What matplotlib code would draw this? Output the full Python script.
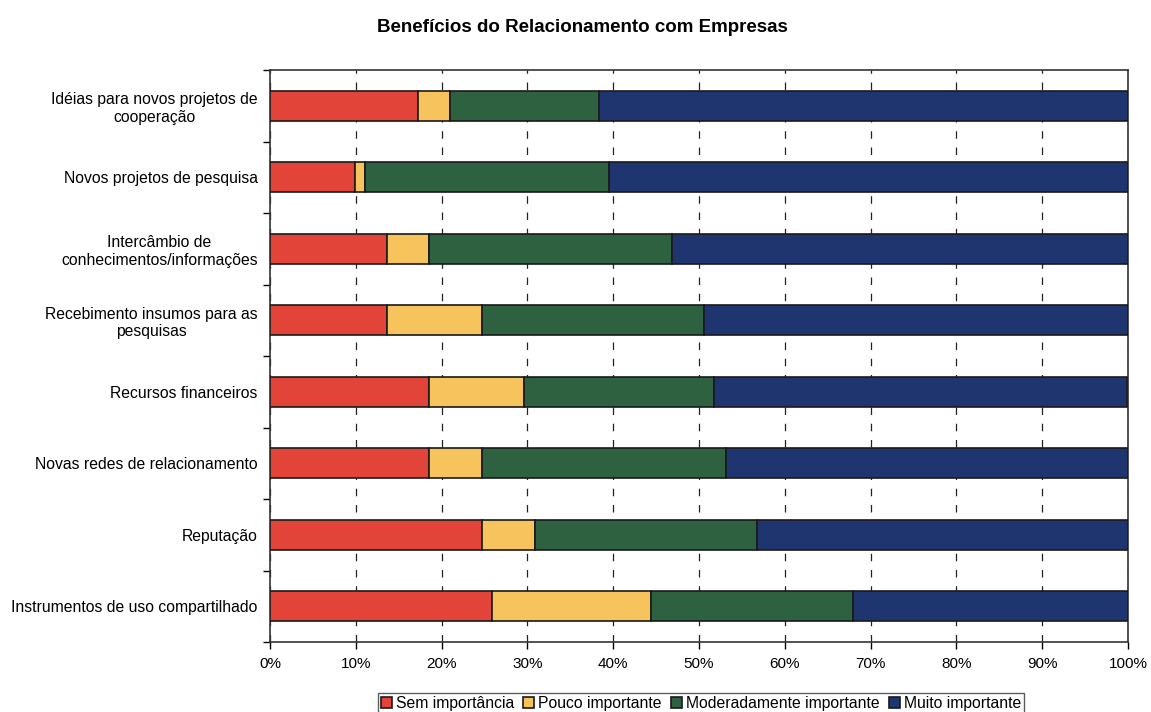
import numpy as np
import matplotlib.pyplot as plt

plt.rcParams['font.family'] = ['Liberation Sans', 'DejaVu Sans']

beneficios = [
    'Idéias para novos projetos de\ncooperação',
    'Novos projetos de pesquisa',
    'Intercâmbio de\nconhecimentos/informações',
    'Recebimento insumos para as\npesquisas',
    'Recursos financeiros',
    'Novas redes de relacionamento',
    'Reputação',
    'Instrumentos de uso compartilhado',
]

# percentages per answer level
sem_importancia = [17.3, 9.9, 13.6, 13.6, 18.5, 18.5, 24.7, 25.9]
pouco_importante = [3.7, 1.2, 4.9, 11.1, 11.1, 6.2, 6.2, 18.5]
moderadamente = [17.3, 28.4, 28.4, 25.9, 22.2, 28.4, 25.9, 23.5]
muito_importante = [61.7, 60.5, 53.1, 49.4, 48.1, 46.9, 43.2, 32.1]

series = [sem_importancia, pouco_importante, moderadamente, muito_importante]
legendas = ['Sem importância', 'Pouco importante',
            'Moderadamente importante', 'Muito importante']
cores = ['#E2443A', '#F6C35C', '#2D6140', '#1F3570']

fig = plt.figure(figsize=(11.51, 7.12), dpi=100)
ax = fig.add_axes([270 / 1151, 70 / 712, 858 / 1151, 572 / 712])

y = np.arange(len(beneficios))
left = np.zeros(len(beneficios))
barras = []
for vals, nome, cor in zip(series, legendas, cores):
    b = ax.barh(y, vals, left=left, height=0.42, color=cor,
                edgecolor='#1a1a1a', linewidth=1.2, label=nome, zorder=3)
    barras.append(b)
    left += np.array(vals)

ax.set_xlim(0, 100)
ax.set_ylim(len(beneficios) - 0.5, -0.5)

ax.set_xticks(np.arange(0, 101, 10))
ax.set_xticklabels(['%d%%' % v for v in range(0, 101, 10)], fontsize=11)
ax.xaxis.grid(True, linestyle=(0, (6, 7)), color='#222222', linewidth=0.9)
ax.set_axisbelow(True)

ax.set_yticks(y)
ax.set_yticklabels(beneficios, fontsize=11.3)
for lbl in ax.get_yticklabels():
    lbl.set_multialignment('center')
ax.set_yticks(np.arange(-0.5, len(beneficios)), minor=True)
ax.tick_params(axis='y', which='major', length=0, pad=9)
ax.tick_params(axis='y', which='minor', length=5, width=1, direction='out')
ax.tick_params(axis='x', length=5, width=1, direction='out', pad=6)

for s in ax.spines.values():
    s.set_linewidth(1.2)
    s.set_color('#333333')

fig.text(0.506, 0.962, 'Benefícios do Relacionamento com Empresas',
         ha='center', va='center', fontsize=13.5, fontweight='bold')

leg = fig.legend(handles=barras, labels=legendas, loc='upper center',
                 bbox_to_anchor=(0.609, 0.027), ncol=4, fontsize=11.3,
                 frameon=True, fancybox=False, edgecolor='#333333',
                 handlelength=0.7, handleheight=0.7, handletextpad=0.25,
                 columnspacing=0.6, borderpad=0.2, borderaxespad=0)
leg.get_frame().set_linewidth(1.0)

fig.savefig('out.png', dpi=100)
